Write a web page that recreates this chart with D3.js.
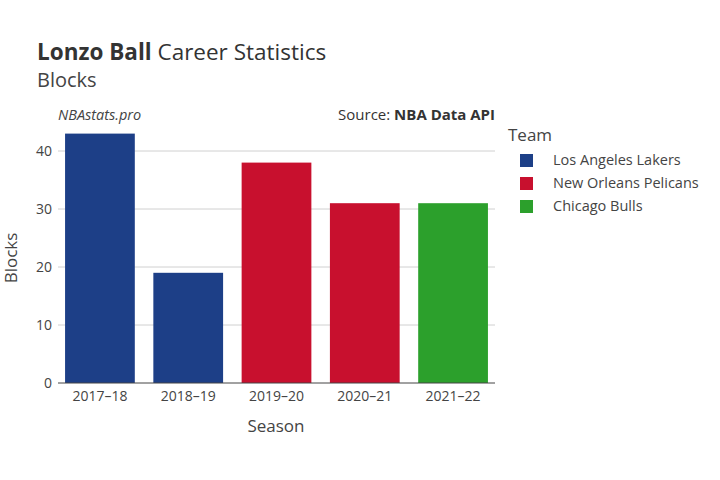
<!DOCTYPE html>
<html><head><meta charset="utf-8">
<script src="https://cdn.jsdelivr.net/npm/d3@7"></script>
<style>body{margin:0;background:#fff}text{font-family:"Open Sans",sans-serif}</style>
</head><body><svg id="c" width="720" height="480"></svg>
<script>
const seasons=["2017-18","2018-19","2019-20","2020-21","2021-22"];
const blocks=[43,19,38,31,31];
const teams=["Los Angeles Lakers","Los Angeles Lakers","New Orleans Pelicans","New Orleans Pelicans","Chicago Bulls"];
const legendTeams=["Los Angeles Lakers","New Orleans Pelicans","Chicago Bulls"];
const teamColors=["#1d3f87","#c8102e","#2ca02c"];
const yTicks=[0,10,20,30,40];

const svg=d3.select("#c");
const L=58,R=495,T=128,B=383;
const x=d3.scaleBand().domain(seasons).range([L,R]).paddingInner(0.21).paddingOuter(0.08);
const y=d3.scaleLinear().domain([0,44]).range([B,B-44*5.8]);
const col=d3.scaleOrdinal().domain(legendTeams).range(teamColors);

svg.append("g").selectAll("line").data(yTicks.slice(1)).join("line")
 .attr("x1",L).attr("x2",R).attr("y1",d=>y(d)).attr("y2",d=>y(d)).attr("stroke","#d0d0d0");
svg.append("g").selectAll("rect").data(seasons).join("rect")
 .attr("x",d=>x(d)).attr("width",x.bandwidth()).attr("y",(d,i)=>y(blocks[i])).attr("height",(d,i)=>B-y(blocks[i]))
 .attr("fill",(d,i)=>col(teams[i]));
svg.append("line").attr("x1",L).attr("x2",R).attr("y1",B).attr("y2",B).attr("stroke","#444");
svg.append("g").selectAll("text").data(yTicks).join("text")
 .attr("x",L-6).attr("y",d=>y(d)+5).attr("text-anchor","end").attr("font-size",14).attr("fill","#444").text(d=>d);
svg.append("g").selectAll("text").data(seasons).join("text")
 .attr("x",d=>x(d)+x.bandwidth()/2).attr("y",B+18).attr("text-anchor","middle").attr("font-size",14).attr("fill","#444").text(d=>d.replace("-","–"));
svg.append("text").attr("x",276).attr("y",432).attr("text-anchor","middle").attr("font-size",17).attr("fill","#444").text("Season");
svg.append("text").attr("transform","translate(17,258) rotate(-90)").attr("text-anchor","middle").attr("font-size",17).attr("fill","#444").text("Blocks");
const t=svg.append("text").attr("x",37).attr("y",60).attr("font-size",22.5).attr("fill","#333");
t.append("tspan").attr("font-weight","bold").text("Lonzo Ball");
t.append("tspan").text(" Career Statistics");
svg.append("text").attr("x",37).attr("y",87).attr("font-size",20).attr("fill","#444").text("Blocks");
svg.append("text").attr("x",58).attr("y",120).attr("font-size",14.5).attr("font-style","italic").attr("fill","#444").text("NBAstats.pro");
const s=svg.append("text").attr("x",495).attr("y",120).attr("text-anchor","end").attr("font-size",15).attr("fill","#333");
s.append("tspan").text("Source: ");s.append("tspan").attr("font-weight","bold").text("NBA Data API");
svg.append("text").attr("x",508).attr("y",141).attr("font-size",17).attr("fill","#444").text("Team");
const lg=svg.append("g").selectAll("g").data(legendTeams).join("g").attr("transform",(d,i)=>`translate(520,${160+i*23})`);
lg.append("rect").attr("x",0).attr("y",-6).attr("width",13).attr("height",13).attr("fill",d=>col(d));
lg.append("text").attr("x",33).attr("y",5).attr("font-size",14.5).attr("fill","#444").text(d=>d);
</script></body></html>
